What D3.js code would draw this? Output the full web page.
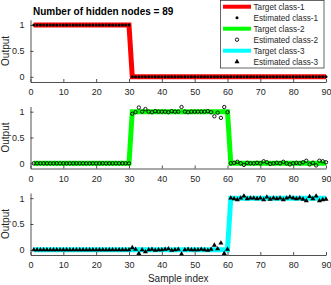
<!DOCTYPE html>
<html>
<head>
<meta charset="utf-8">
<script src="https://cdn.jsdelivr.net/npm/d3@7"></script>
<style>
  body { margin: 0; background: #fff; }
  svg { display: block; font-family: "Liberation Sans", Arial, sans-serif; }
</style>
</head>
<body>
<div class="container"></div>
<script>
const titleText = 'Number of hidden nodes = 89';
const xTicks = [0, 10, 20, 30, 40, 50, 60, 70, 80, 90];
const yTicks = [0, 0.5, 1];
const legendLabels = ['Target class-1', 'Estimated class-1', 'Target class-2',
  'Estimated class-2', 'Target class-3', 'Estimated class-3'];

const sampleIdx = d3.range(1, 91);

const target1 = [
  1,1,1,1,1,1,1,1,1,1,1,1,1,1,1,1,1,1,1,1,1,1,1,1,1,1,1,1,1,1,
  0,0,0,0,0,0,0,0,0,0,0,0,0,0,0,0,0,0,0,0,0,0,0,0,0,0,0,0,0,0,
  0,0,0,0,0,0,0,0,0,0,0,0,0,0,0,0,0,0,0,0,0,0,0,0,0,0,0,0,0,0];
const target2 = [
  0,0,0,0,0,0,0,0,0,0,0,0,0,0,0,0,0,0,0,0,0,0,0,0,0,0,0,0,0,0,
  1,1,1,1,1,1,1,1,1,1,1,1,1,1,1,1,1,1,1,1,1,1,1,1,1,1,1,1,1,1,
  0,0,0,0,0,0,0,0,0,0,0,0,0,0,0,0,0,0,0,0,0,0,0,0,0,0,0,0,0,0];
const target3 = [
  0,0,0,0,0,0,0,0,0,0,0,0,0,0,0,0,0,0,0,0,0,0,0,0,0,0,0,0,0,0,
  0,0,0,0,0,0,0,0,0,0,0,0,0,0,0,0,0,0,0,0,0,0,0,0,0,0,0,0,0,0,
  1,1,1,1,1,1,1,1,1,1,1,1,1,1,1,1,1,1,1,1,1,1,1,1,1,1,1,1,1,1];

const est1 = [
  1,1,1,1,1,1,1,1,1,1,1,1,1,1,1,1,1,1,1,1,1,1,1,1,1,1,1,1,1,1,
  0,0,0,0,0,0,0,0,0,0,0,0,0,0,0,0,0,0,0,0,0,0,0,0,0,0,0,0,0,0,
  0,0,0,0,0,0,0,0,0,0,0,0,0,0,0,0,0,0,0,0,0,0,0,0,0,0,0,0,0,0];
const est2 = [
  0,0,0,0,0,0,0,0,0,0,0,0,0,0,0,0,0,0,0,0,0,0,0,0,0,0,0,0,0,0,
  0.96,0.99,1.08,1.00,1.05,1.00,0.99,1.01,1.00,1.00,1.00,0.99,1.01,1.00,1.00,
  1.09,1.00,0.99,1.00,1.00,1.00,1.00,1.00,1.01,0.99,0.91,0.98,0.88,1.09,0.99,
  0.00,0.01,0.03,0.00,-0.03,0.01,0.00,0.00,0.01,0.00,0.04,0.02,-0.01,0.00,0.01,
  0.00,0.03,0.00,-0.02,0.00,0.01,0.00,0.02,0.05,-0.02,0.01,-0.04,0.05,0.04,0.02];
const est3 = [
  0,0,0,0,0,0,0,0,0,0,0,0,0,0,0,0,0,0,0,0,0,0,0,0,0,0,0,0,0,0,
  0.04,0.01,-0.07,0.00,-0.04,0.00,0.01,-0.01,0.00,0.00,0.01,0.02,-0.01,0.00,0.01,
  -0.08,0.00,0.01,0.00,0.00,0.00,0.01,0.00,-0.01,0.01,0.09,0.02,0.13,-0.07,0.01,
  1.00,0.99,0.97,1.00,1.04,0.99,1.00,1.00,0.99,1.00,0.97,1.02,0.98,1.00,0.99,
  1.00,0.97,1.00,1.02,1.00,0.99,1.00,0.98,0.95,1.03,0.99,1.04,0.95,0.97,0.98];

const colors = ['#ff0000', '#00ff00', '#00ffff'];
const axisColor = '#262626';

const width = 331, height = 285;
const left = 30.5, right = 326;
const panels = [
  {top: 19.8, bottom: 82, target: target1, est: est1, marker: 'dot'},
  {top: 106.5, bottom: 168.5, target: target2, est: est2, marker: 'circle'},
  {top: 193, bottom: 255, target: target3, est: est3, marker: 'tri'}
];

const svg = d3.select('.container').append('svg')
  .attr('width', width).attr('height', height);

const x = d3.scaleLinear().domain([0, 90]).range([left, right]);

function drawMarker(sel, type) {
  if (type === 'dot') {
    sel.append('circle').attr('r', 1.5).attr('fill', '#000');
  } else if (type === 'circle') {
    sel.append('circle').attr('r', 1.7).attr('fill', 'none')
      .attr('stroke', '#000').attr('stroke-width', 0.9);
  } else {
    sel.append('path').attr('d', d3.symbol(d3.symbolTriangle, 11)())
      .attr('fill', '#000');
  }
}

panels.forEach((p, i) => {
  const y = d3.scaleLinear().domain([-0.1, 1.1]).range([p.bottom, p.top]);
  const g = svg.append('g');

  // target line
  g.append('path')
    .datum(sampleIdx)
    .attr('fill', 'none')
    .attr('stroke', colors[i])
    .attr('stroke-width', 5)
    .attr('d', d3.line().x(d => x(d)).y((d, j) => y(p.target[j])));

  // estimated markers
  sampleIdx.forEach((s, j) => {
    const m = g.append('g').attr('transform', `translate(${x(s)},${y(p.est[j])})`);
    drawMarker(m, p.marker);
  });

  // x axis
  const xa = g.append('g').attr('transform', `translate(0,${p.bottom})`)
    .call(d3.axisBottom(x).tickValues(xTicks).tickSizeInner(-3).tickSizeOuter(0).tickPadding(7));
  // y axis
  const ya = g.append('g').attr('transform', `translate(${left},0)`)
    .call(d3.axisLeft(y).tickValues(yTicks).tickSizeInner(-3).tickSizeOuter(0).tickPadding(6)
      .tickFormat(d3.format('~g')));
  [xa, ya].forEach(a => {
    a.select('.domain').attr('stroke', axisColor).attr('stroke-width', 0.8);
    a.selectAll('.tick line').attr('stroke', axisColor).attr('stroke-width', 0.8);
    a.selectAll('.tick text').attr('fill', axisColor)
      .style('font-family', '"Liberation Sans", Arial, sans-serif').style('font-size', '9px');
  });

  svg.append('text')
    .attr('transform', `translate(9,${(p.top + p.bottom) / 2}) rotate(-90)`)
    .attr('text-anchor', 'middle')
    .attr('fill', axisColor)
    .style('font-size', '10px')
    .text('Output');
});

svg.append('text')
  .attr('x', (left + right) / 2).attr('y', 282)
  .attr('text-anchor', 'middle')
  .attr('fill', axisColor)
  .style('font-size', '10px')
  .text('Sample index');

svg.append('text')
  .attr('x', 33).attr('y', 15)
  .attr('fill', '#000')
  .style('font-size', '10px').style('font-weight', 'bold')
  .text(titleText);

// legend
const leg = svg.append('g');
leg.append('rect')
  .attr('x', 220.5).attr('y', 0.5).attr('width', 103.5).attr('height', 67.5)
  .attr('fill', '#fff').attr('stroke', axisColor).attr('stroke-width', 0.7);
const legMarkers = ['dot', 'circle', 'tri'];
legendLabels.forEach((lab, k) => {
  const cy = 6.7 + k * 11;
  if (k % 2 === 0) {
    leg.append('line').attr('x1', 223).attr('x2', 251).attr('y1', cy).attr('y2', cy)
      .attr('stroke', colors[k / 2]).attr('stroke-width', 4);
  } else {
    drawMarker(leg.append('g').attr('transform', `translate(237,${cy})`), legMarkers[(k - 1) / 2]);
  }
  leg.append('text').attr('x', 253.5).attr('y', cy + 3)
    .attr('fill', axisColor).style('font-size', '8.2px').text(lab);
});
</script>
</body>
</html>
